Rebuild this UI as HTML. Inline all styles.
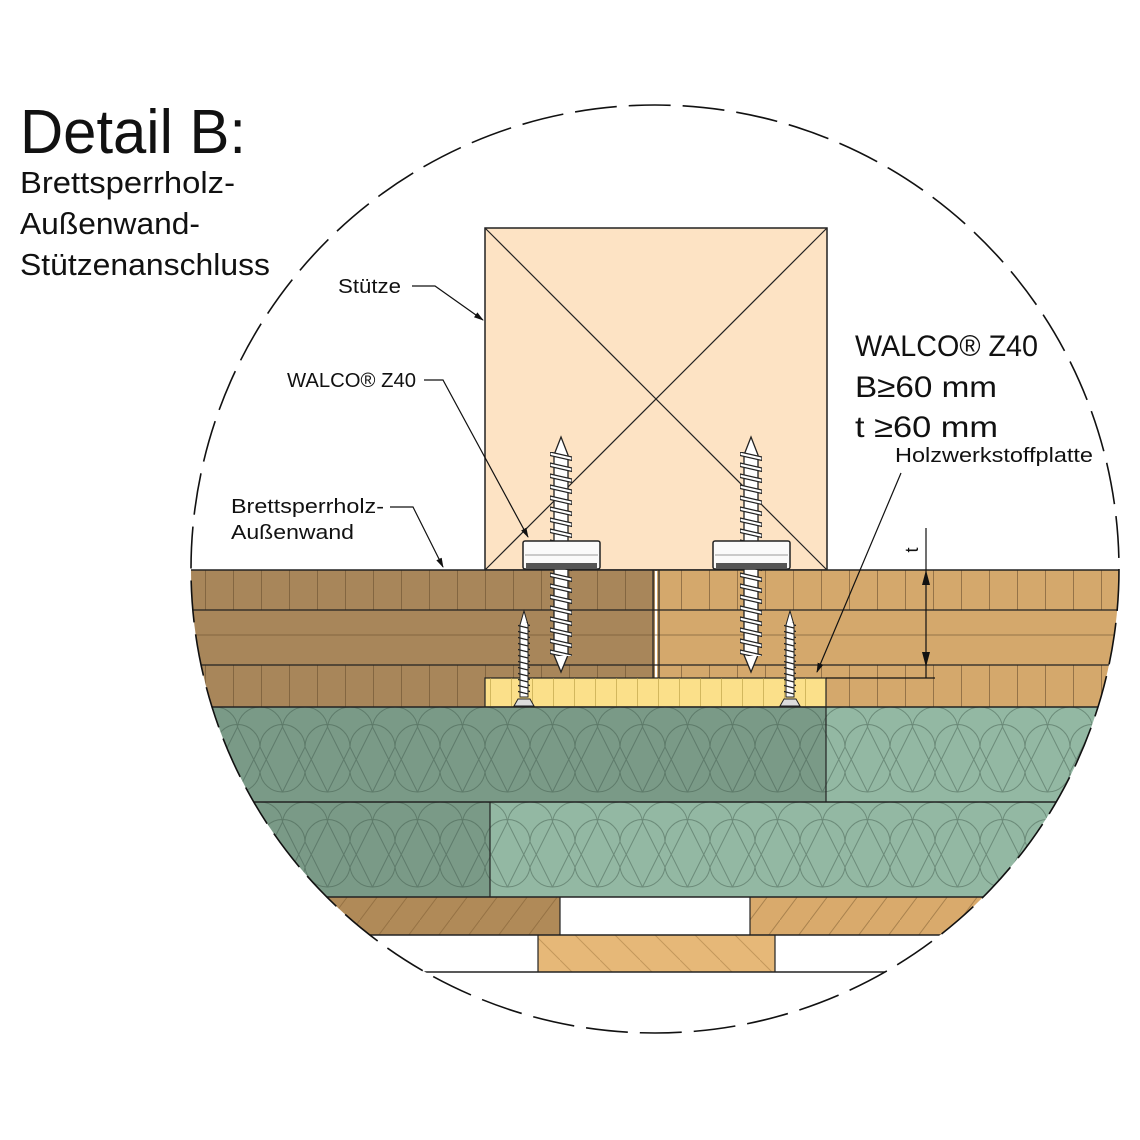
<!DOCTYPE html>
<html><head><meta charset="utf-8"><style>
html,body{margin:0;padding:0;background:#fff}
svg{display:block}
text{font-family:"Liberation Sans",sans-serif;fill:#111}
</style></head><body>
<svg width="1140" height="1140" viewBox="0 0 1140 1140" xmlns="http://www.w3.org/2000/svg">
<defs>
<clipPath id="c"><circle cx="655" cy="569" r="464"/></clipPath>
<pattern id="vl" width="28" height="200" patternUnits="userSpaceOnUse" x="205"><line x1="0.5" y1="0" x2="0.5" y2="200" stroke="#6b5030" stroke-width="1" opacity=".6"/></pattern>
<pattern id="vy" width="21" height="50" patternUnits="userSpaceOnUse" x="490"><line x1="0.5" y1="0" x2="0.5" y2="50" stroke="#b89a40" stroke-width="1" opacity=".6"/></pattern>
<pattern id="ins" width="45" height="95" patternUnits="userSpaceOnUse" x="215" y="707">
<path d="M0,40 A22.5,22.5 0 0 1 45,40 M0,40 L22.5,85 A22.5,22.5 0 0 1 0,65 M45,40 L22.5,85 M22.5,85 A22.5,22.5 0 0 0 45,65 M-22.5,85 L0,40 M22.5,20 A22.5,22.5 0 0 0 0,0 M22.5,20 A22.5,22.5 0 0 1 45,0 M22.5,20 L0,65 M22.5,20 L45,65" fill="none" stroke="#3d5548" stroke-width="1" opacity=".45"/>
</pattern>
<pattern id="hat" width="30" height="40" patternUnits="userSpaceOnUse"><line x1="0" y1="40" x2="30" y2="0" stroke="#7a5a30" stroke-width="1" opacity=".5"/></pattern>
<pattern id="hat2" width="40" height="40" patternUnits="userSpaceOnUse"><line x1="0" y1="0" x2="40" y2="40" stroke="#a07840" stroke-width="1" opacity=".5"/></pattern>
<pattern id="thr" width="22" height="11" patternUnits="userSpaceOnUse"><path d="M0,1 L22,6 L22,9.5 L0,4.5Z" fill="#fff" stroke="#222" stroke-width="1.3"/></pattern>
<pattern id="thr2" width="12" height="6" patternUnits="userSpaceOnUse"><path d="M0,1 L12,4" stroke="#222" stroke-width="1.3"/></pattern>
<marker id="ar" markerWidth="10" markerHeight="10" refX="9" refY="5" orient="auto" markerUnits="userSpaceOnUse"><path d="M0,2 L10,5 L0,8Z" fill="#111"/></marker>
</defs>

<g clip-path="url(#c)">
<rect x="485" y="228" width="342" height="342" fill="#fde3c4" stroke="#222" stroke-width="1.5"/>
<line x1="485" y1="228" x2="827" y2="570" stroke="#222" stroke-width="1.2"/>
<line x1="827" y1="228" x2="485" y2="570" stroke="#222" stroke-width="1.2"/>
<rect x="150" y="570" width="505" height="137" fill="#a8865a"/>
<rect x="657" y="570" width="500" height="137" fill="#d4a86c"/>
<rect x="150" y="570" width="1000" height="40" fill="url(#vl)"/>
<rect x="150" y="665" width="1000" height="42" fill="url(#vl)"/>
<line x1="150" y1="635" x2="1150" y2="635" stroke="#6b5030" stroke-width="1" opacity=".6"/>
<line x1="150" y1="570" x2="1150" y2="570" stroke="#222" stroke-width="1.5"/>
<line x1="150" y1="610" x2="1150" y2="610" stroke="#222" stroke-width="1.2"/>
<line x1="150" y1="665" x2="1150" y2="665" stroke="#222" stroke-width="1.2"/>
<line x1="653" y1="570" x2="653" y2="678" stroke="#222" stroke-width="1.2"/>
<line x1="659" y1="570" x2="659" y2="678" stroke="#222" stroke-width="1.2"/>
<rect x="485" y="678" width="341" height="29" fill="#fbe08a" stroke="#222" stroke-width="1.2"/>
<rect x="485" y="678" width="341" height="29" fill="url(#vy)"/>
<rect x="150" y="707" width="676" height="95" fill="#7a9a87"/>
<rect x="826" y="707" width="330" height="95" fill="#93b8a3"/>
<rect x="150" y="802" width="340" height="95" fill="#7a9a87"/>
<rect x="490" y="802" width="567" height="95" fill="#93b8a3"/>
<rect x="150" y="707" width="1000" height="190" fill="url(#ins)"/>
<line x1="150" y1="707" x2="1150" y2="707" stroke="#222" stroke-width="1.5"/>
<line x1="150" y1="802" x2="1150" y2="802" stroke="#222" stroke-width="1.5"/>
<line x1="826" y1="707" x2="826" y2="802" stroke="#222" stroke-width="1.2"/>
<line x1="490" y1="802" x2="490" y2="897" stroke="#222" stroke-width="1.2"/>
<rect x="150" y="897" width="410" height="38" fill="#b08a58"/>
<rect x="150" y="897" width="410" height="38" fill="url(#hat)"/>
<rect x="750" y="897" width="400" height="38" fill="#d9aa6c"/>
<rect x="750" y="897" width="400" height="38" fill="url(#hat)"/>
<rect x="538" y="935" width="237" height="37" fill="#e6b878"/>
<rect x="538" y="935" width="237" height="37" fill="url(#hat2)"/>
<line x1="150" y1="897" x2="1150" y2="897" stroke="#222" stroke-width="1.5"/>
<line x1="150" y1="935" x2="1150" y2="935" stroke="#222" stroke-width="1.5"/>
<line x1="150" y1="972" x2="1150" y2="972" stroke="#222" stroke-width="1.5"/>
<line x1="560" y1="897" x2="560" y2="935" stroke="#222" stroke-width="1.2"/>
<line x1="750" y1="897" x2="750" y2="935" stroke="#222" stroke-width="1.2"/>
<line x1="538" y1="935" x2="538" y2="972" stroke="#222" stroke-width="1.2"/>
<line x1="775" y1="935" x2="775" y2="972" stroke="#222" stroke-width="1.2"/>
</g>
<circle cx="655" cy="569" r="464" fill="none" stroke="#111" stroke-width="1.6" stroke-dasharray="42,12"/>

<g id="bs">
<path d="M561,437 L568,455 L568,655 L561,672 L554,655 L554,455Z" fill="#fff" stroke="#222" stroke-width="1.3"/>
<rect x="550" y="452" width="22" height="204" fill="url(#thr)"/>
<rect x="523" y="541" width="77" height="28" rx="2" fill="#fafafa" stroke="#222" stroke-width="1.5"/>
<line x1="525" y1="555" x2="598" y2="555" stroke="#999" stroke-width="1"/>
<rect x="526" y="563" width="71" height="6" fill="#555"/>
</g>
<use href="#bs" transform="translate(190,0)"/>
<g id="ss">
<path d="M524,611 L528,625 L528,697 L520,697 L520,625Z" fill="#fff" stroke="#222" stroke-width="1"/>
<rect x="518" y="622" width="12" height="74" fill="url(#thr2)"/>
<path d="M514,706 L518,699 L530,699 L534,706Z" fill="#ddd" stroke="#222" stroke-width="1"/>
</g>
<use href="#ss" transform="translate(266,0)"/>

<line x1="926" y1="528" x2="926" y2="678" stroke="#111" stroke-width="1.2"/>
<path d="M926,570 L922,585 L930,585Z" fill="#111"/>
<path d="M926,667 L922,652 L930,652Z" fill="#111"/>
<line x1="826" y1="678" x2="935" y2="678" stroke="#111" stroke-width="1.2"/>
<text x="0" y="0" font-size="18" transform="translate(918,550) rotate(-90)" text-anchor="middle">t</text>

<text x="20" y="153" font-size="62" textLength="226" lengthAdjust="spacingAndGlyphs">Detail B:</text>
<text x="20" y="193" font-size="31" textLength="215" lengthAdjust="spacingAndGlyphs">Brettsperrholz-</text>
<text x="20" y="234" font-size="31" textLength="180" lengthAdjust="spacingAndGlyphs">Außenwand-</text>
<text x="20" y="275" font-size="31" textLength="250" lengthAdjust="spacingAndGlyphs">Stützenanschluss</text>

<text x="338" y="293" font-size="20" textLength="63" lengthAdjust="spacingAndGlyphs">Stütze</text>
<polyline points="412,286 435,286 483,320" fill="none" stroke="#111" stroke-width="1.2" marker-end="url(#ar)"/>
<text x="287" y="387" font-size="20" textLength="129" lengthAdjust="spacingAndGlyphs">WALCO® Z40</text>
<polyline points="424,380 443,380 528,537" fill="none" stroke="#111" stroke-width="1.2" marker-end="url(#ar)"/>
<text x="231" y="513" font-size="20" textLength="153" lengthAdjust="spacingAndGlyphs">Brettsperrholz-</text>
<text x="231" y="539" font-size="20" textLength="123" lengthAdjust="spacingAndGlyphs">Außenwand</text>
<polyline points="390,507 413,507 443,567" fill="none" stroke="#111" stroke-width="1.2" marker-end="url(#ar)"/>
<text x="855" y="356" font-size="30" textLength="183" lengthAdjust="spacingAndGlyphs">WALCO® Z40</text>
<text x="855" y="397" font-size="30" textLength="142" lengthAdjust="spacingAndGlyphs">B≥60 mm</text>
<text x="855" y="437" font-size="30" textLength="143" lengthAdjust="spacingAndGlyphs">t ≥60 mm</text>
<text x="895" y="462" font-size="20" textLength="198" lengthAdjust="spacingAndGlyphs">Holzwerkstoffplatte</text>
<line x1="901" y1="473" x2="817" y2="672" stroke="#111" stroke-width="1.2" marker-end="url(#ar)"/>
</svg>
</body></html>
